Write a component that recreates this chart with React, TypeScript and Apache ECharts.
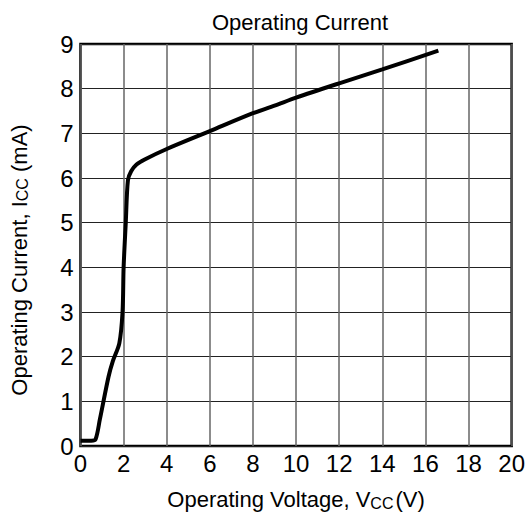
import React, { useEffect, useRef } from "react";
import * as echarts from "echarts";

const voltage = [0, 0.5, 0.7, 0.9, 1.3, 1.5, 1.8, 1.95, 2.0, 2.1, 2.2, 2.35, 2.6, 3, 4, 6, 8, 9, 10, 12, 14, 16.6];
const current = [0.12, 0.12, 0.15, 0.6, 1.55, 1.9, 2.3, 3.0, 4.0, 5.0, 5.95, 6.15, 6.3, 6.42, 6.65, 7.05, 7.45, 7.62, 7.8, 8.12, 8.43, 8.85];

export default function App() {
  const ref = useRef<HTMLDivElement>(null);
  useEffect(() => {
    const chart = echarts.init(ref.current!, null, { renderer: "svg" });
    const font = "'Liberation Sans', Arial, sans-serif";
    chart.setOption({
      animation: false,
      title: {
        text: "Operating Current",
        left: 295,
        textAlign: "center",
        top: 6,
        textStyle: { fontFamily: font, fontSize: 22, fontWeight: "normal", color: "#000" },
      },
      grid: { left: 75, right: 13, top: 44, bottom: 72, show: true, borderColor: "#000", borderWidth: 2.5 },
      xAxis: {
        type: "value",
        min: 0,
        max: 20,
        interval: 2,
        name: "Operating Voltage, V{sub|CC}(V)",
        nameLocation: "middle",
        nameGap: 42,
        nameTextStyle: {
          fontFamily: font,
          fontSize: 22,
          color: "#000",
          rich: { sub: { fontFamily: font, fontSize: 16, verticalAlign: "bottom", padding: [7, 2, 0, 0], color: "#000" } },
        },
        axisLine: { show: false },
        axisTick: { show: false },
        axisLabel: { fontFamily: font, fontSize: 24, color: "#000", margin: 5 },
        splitLine: { show: true, lineStyle: { color: "#666", width: 1.5 } },
      },
      yAxis: {
        type: "value",
        min: 0,
        max: 9,
        interval: 1,
        name: "Operating Current, I{sub|CC} (mA)",
        nameLocation: "middle",
        nameGap: 50,
        nameTextStyle: {
          fontFamily: font,
          fontSize: 22,
          color: "#000",
          padding: [0, 30, 0, 0],
          rich: { sub: { fontFamily: font, fontSize: 16, verticalAlign: "bottom", padding: [7, 0, 0, 0], color: "#000" } },
        },
        axisLine: { show: false },
        axisTick: { show: false },
        axisLabel: { fontFamily: font, fontSize: 24, color: "#000", margin: 7 },
        splitLine: { show: true, lineStyle: { color: "#222", width: 1.2 } },
      },
      series: [
        {
          type: "line",
          data: voltage.map((v, i) => [v, current[i]]),
          showSymbol: false,
          smooth: 0.3,
          lineStyle: { color: "#000", width: 4 },
        },
      ],
    });
    return () => chart.dispose();
  }, []);
  return <div ref={ref} style={{ width: 528, height: 518, position: "absolute", left: 0, top: 0 }} />;
}
